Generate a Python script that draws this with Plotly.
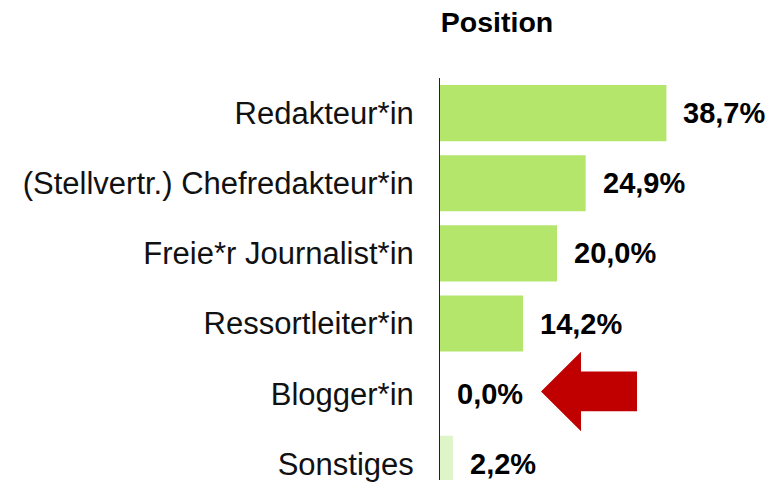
import plotly.graph_objects as go

categories = ["Redakteur*in", "(Stellvertr.) Chefredakteur*in", "Freie*r Journalist*in",
              "Ressortleiter*in", "Blogger*in", "Sonstiges"]
values = [38.7, 24.9, 20.0, 14.2, 0.0, 2.2]
labels = ["38,7%", "24,9%", "20,0%", "14,2%", "0,0%", "2,2%"]
bar_colors = ["#b4e66c", "#b4e66c", "#b4e66c", "#b4e66c", "#b4e66c", "#ddf5c7"]

# page has an 8px body margin, so work in page pixels and subtract it
OFF = 8
W, H = 775 - OFF, 482 - OFF
left, top = 440 - OFF, 78 - OFF


def px_to_paper(px, py):
  px, py = px - OFF, py - OFF
  return (px - left) / (W - left), (H - py) / (H - top)


fig = go.Figure()

fig.add_trace(go.Bar(
    x = values,
    y = categories,
    orientation = "h",
    width = 0.8,
    marker = dict(color = bar_colors, line = dict(width = 0)),
    hoverinfo = "skip"
))

for cat, val, lab in zip(categories, values, labels):
  fig.add_annotation(
      x = val, y = cat, text = lab, showarrow = False,
      xanchor = "left", yanchor = "middle", xshift = 15,
      font = dict(family = "Liberation Sans, Arial, sans-serif", size = 29, color = "black", weight = "bold")
  )

# red arrow pointing at the 0,0% value
arrow_px = [(541, 393), (581, 353), (581, 373), (637, 373), (637, 413), (581, 413), (581, 433)]
pts = [px_to_paper(a, b) for a, b in arrow_px]
path = "M " + " L ".join(f"{a:.4f},{b:.4f}" for a, b in pts) + " Z"
fig.add_shape(type = "path", xref = "paper", yref = "paper", path = path,
              fillcolor = "#c00000", line = dict(width = 0))

fig.update_layout(
    width = W, height = H,
    margin = dict(l = left, r = 0, t = top, b = 0),
    paper_bgcolor = "white", plot_bgcolor = "white",
    showlegend = False,
    title = dict(text = "<b>Position</b>", x = (497 - OFF) / W, xanchor = "center",
                 y = 1 - (22 - OFF) / H, yanchor = "middle",
                 font = dict(family = "Liberation Sans, Arial, sans-serif", size = 28.5, color = "black"))
)

fig.update_xaxes(range = [0, (W - left) / 5.85], showgrid = False, zeroline = False,
                 showticklabels = False, showline = False, ticks = "")
fig.update_yaxes(categoryorder = "array", categoryarray = categories,
                 range = [5.23, -0.5], showgrid = False, zeroline = False,
                 showline = True, linecolor = "#222222", linewidth = 1, ticks = "",
                 ticklabelstandoff = 19,
                 tickfont = dict(family = "Liberation Sans, Arial, sans-serif", size = 31, color = "#111111"))

fig.write_html("out.html")
